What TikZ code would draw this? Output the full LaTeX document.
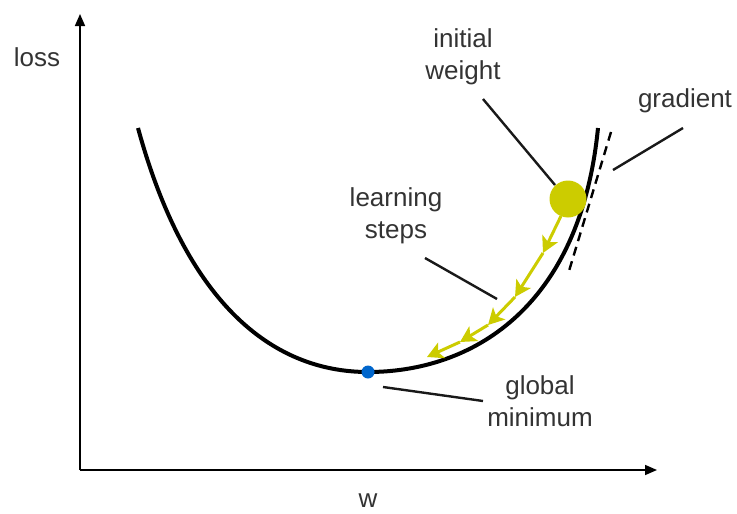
\documentclass[tikz,border=0pt]{standalone}
\usepackage{fontspec}
\setmainfont{Liberation Sans}
\usetikzlibrary{arrows.meta, positioning}
\definecolor{stepyellow}{RGB}{204,204,0}
\definecolor{minblue}{RGB}{0,102,204}
\tikzset{
  lbl/.style ={align=center, inner sep=0pt, text=black!80, font=\fontsize{26}{32}\selectfont},
  ax/.style  ={line width=1.6pt, -{Triangle[length=12pt,width=10pt]}},
  crv/.style ={line width=4pt},
  ptr/.style ={line width=2.4pt, black!90},
  stp/.style ={line width=3pt, stepyellow, -{Stealth[length=16pt,width=17pt,inset=4pt]}},
  tng/.style ={line width=2.4pt, dash pattern=on 9pt off 6pt},
}
\begin{document}
\begin{tikzpicture}[x=1pt, y=-1pt]
  \useasboundingbox (0,0) rectangle (737,514);
  % axes
  \coordinate (o) at (80,470);
  \coordinate (ytop) at (80,14);
  \coordinate (xend) at (657,470);
  \draw[ax] (o) -- (ytop);
  \draw[ax] (o) -- (xend);
  \node[lbl] (loss) at (37,57) {loss};
  \node[lbl] (w) at (368,501) {w};

  % loss curve
  \coordinate (cl) at (138,128);
  \coordinate (cm) at (368,372);
  \coordinate (cr) at (598,128);
  \draw[crv] (cl) .. controls (185,300) and (270,372) .. (cm)
                  .. controls (470,372) and (580,310) .. (cr);

  % tangent
  \coordinate (t1) at (611,132);
  \coordinate (t2) at (569,271);
  \draw[tng] (t1) -- (t2);

  % learning steps
  \coordinate (s0) at (561,216);
  \coordinate (s1) at (543,253);
  \coordinate (s2) at (515,297);
  \coordinate (s3) at (488,325);
  \coordinate (s4) at (460,342);
  \coordinate (s5) at (427,357);
  \foreach \a/\b in {s0/s1, s1/s2, s2/s3, s3/s4, s4/s5}
    \draw[stp] (\a) -- (\b);

  % points
  \node[circle, fill=stepyellow, minimum size=37pt, inner sep=0pt] (init) at (568,199) {};
  \node[circle, fill=minblue, minimum size=13pt, inner sep=0pt] (gmin) at (cm) {};

  % labels
  \node[lbl] (iwl) at (463,57) {initial\\weight};
  \node[lbl] (grl) at (685,101) {gradient};
  \node[lbl] (lsl) at (396,216) {learning\\steps};
  \node[lbl] (gml) at (540,401) {global\\minimum};

  \coordinate (iw1) at (483,99);
  \coordinate (iw2) at (555,185);
  \coordinate (gr1) at (683,128);
  \coordinate (gr2) at (613,170);
  \coordinate (ls1) at (425,258);
  \coordinate (ls2) at (497,299);
  \coordinate (gm1) at (383,387);
  \coordinate (gm2) at (483,401);
  \draw[ptr] (iw1) -- (iw2);
  \draw[ptr] (gr1) -- (gr2);
  \draw[ptr] (ls1) -- (ls2);
  \draw[ptr] (gm1) -- (gm2);
\end{tikzpicture}
\end{document}
